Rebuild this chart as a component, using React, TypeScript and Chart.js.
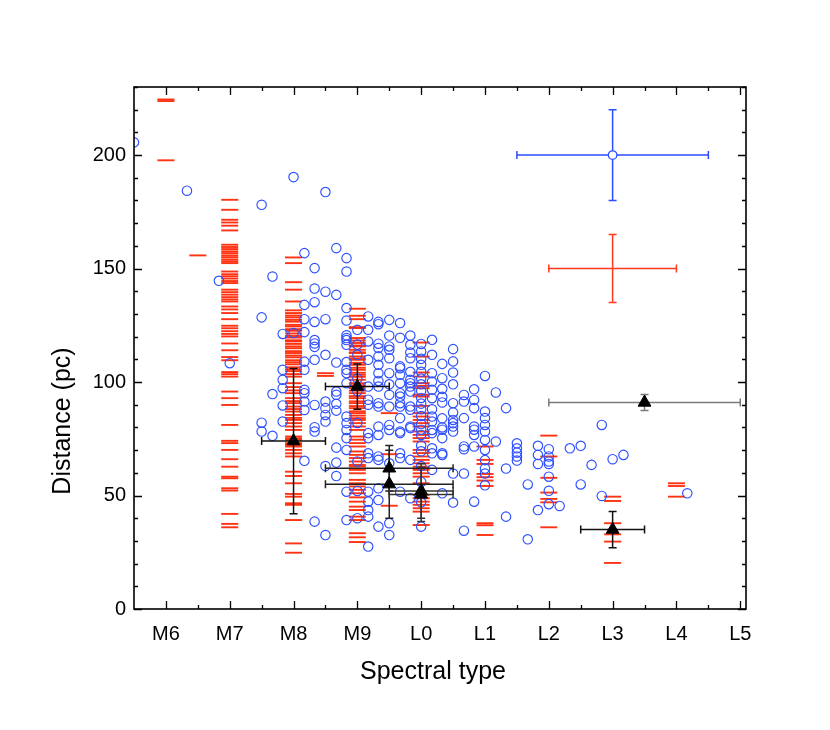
import React, { useEffect, useRef } from 'react';
import { Chart, registerables } from 'chart.js';

Chart.register(...registerables);

// ---------- axis ticks ----------
const X_TICK_VALUES = [6, 7, 8, 9, 10, 11, 12, 13, 14, 15];
const X_TICK_LABELS = ['M6', 'M7', 'M8', 'M9', 'L0', 'L1', 'L2', 'L3', 'L4', 'L5'];
const Y_TICK_VALUES = [0, 50, 100, 150, 200];
const X_MIN = 5.5;
const X_MAX = 15.09;
const Y_MIN = 0;
const Y_MAX = 230;

// ---------- red dashes (spectral type, distances) ----------
const RED_M6 = [224.5, 223.8, 197.7];
const RED_M6_5 = [155.8];
const RED_M7 = [180.3, 175.9, 171.5, 170.3, 168.9, 166.8, 160.5, 159.5, 158.6, 157.6, 156.8, 155.8, 155.0, 154.0, 153.2, 152.4,
  148.7, 147.5, 146.6, 145.6, 144.5, 143.6, 140.7, 139.6, 138.5, 137.4, 136.4, 135.5, 133.3, 132.0, 130.4, 127.7, 124.8,
  123.7, 122.4, 121.2, 120.1, 117.0, 114.0, 111.0, 109.6, 104.4, 103.5, 102.4, 95.8, 92.9, 89.9, 81.1, 74.1, 73.1, 70.1,
  66.0, 62.7, 58.3, 57.6, 53.2, 52.2, 41.9, 37.5, 36.0];
const RED_M8 = [154.9, 152.4, 144.0, 140.7, 135.5, 131.6, 130.4, 129.3, 128.5, 127.4, 126.6, 125.2, 124.5, 123.3, 122.6,
  121.4, 120.3, 119.6, 118.4, 117.9, 116.8, 115.7, 114.9, 113.6, 112.8, 111.7, 110.9, 109.6, 108.7, 107.8, 106.5, 105.6,
  104.8, 103.5, 102.4, 99.5, 97.8, 96.3, 95.1, 92.9, 91.6, 90.7, 89.2, 88.1, 87.0, 85.5, 84.2, 83.3, 81.9, 80.4, 78.9,
  76.0, 75.2, 74.5, 73.1, 72.3, 71.6, 70.1, 68.6, 67.2, 60.5, 58.6, 55.4, 50.7, 49.5, 46.6, 45.9, 39.2, 28.9, 24.8];
const RED_M8_5 = [103.9, 102.7];
const RED_M9 = [132.3, 129.2, 127.7, 124.2, 123.8, 119.4, 118.3, 117.2, 116.1, 115.7, 114.2, 113.1, 112.8, 111.3, 110.4,
  109.8, 108.5, 107.6, 106.3, 105.4, 104.1, 103.2, 102.3, 101.0, 99.5, 98.6, 97.3, 96.2, 95.1, 93.8, 92.9, 91.5, 90.7,
  89.4, 88.5, 87.1, 86.3, 85.2, 84.1, 83.3, 81.9, 80.4, 78.9, 76.0, 74.6, 73.1, 71.6, 69.4, 67.9, 66.5, 65.0, 63.5, 62.8,
  61.3, 59.8, 56.9, 55.4, 54.0, 52.5, 51.0, 49.2, 47.3, 45.1, 43.6, 40.7, 39.2, 33.4, 31.6, 29.5];
const RED_M9_5 = [86.3, 68.2, 45.5];
const RED_L0 = [117.4, 111.2, 104.2, 102.4, 99.5, 98.3, 97.3, 94.4, 93.6, 89.5, 86.3, 84.8, 83.3, 81.9, 80.4, 78.2, 76.7,
  75.3, 73.8, 70.1, 68.7, 67.2, 65.7, 64.2, 62.7, 61.3, 59.8, 58.3, 55.4, 50.3, 48.8, 47.3, 45.9, 44.4, 42.9, 37.0];
const RED_L1 = [71.6, 65.7, 63.9, 59.5, 58.1, 56.6, 54.2, 37.8, 36.9, 32.6];
const RED_L2 = [76.4, 67.2, 57.8, 51.3, 48.5, 47.0, 36.0];
const RED_L3 = [49.5, 47.6, 37.8, 32.9, 29.7, 20.3];
const RED_L4 = [55.4, 54.2, 49.5];

const RED_COLUMNS: [number, number[]][] = [
  [6, RED_M6], [6.5, RED_M6_5], [7, RED_M7], [8, RED_M8], [8.5, RED_M8_5], [9, RED_M9], [9.5, RED_M9_5],
  [10, RED_L0], [11, RED_L1], [12, RED_L2], [13, RED_L3], [14, RED_L4],
];

// ---------- blue circles (spectral type, distances) ----------
const BLUE_COLUMNS: [number, number[]][] = [
  [5.5, [205.6]],
  [6.33, [184.3]],
  [6.83, [144.6]],
  [7.0, [108.3]],
  [7.5, [178.1, 128.5, 82.1, 78.2]],
  [7.67, [146.5, 94.7, 76.3]],
  [7.83, [121.2, 105.4, 101.0, 97.3, 89.7, 82.6]],
  [8.0, [190.3, 121.6]],
  [8.17, [156.8, 134.0, 127.7, 122.0, 109.0, 105.4, 96.6, 95.1, 91.4, 87.7, 65.3]],
  [8.33, [150.2, 141.2, 135.2, 126.5, 118.5, 117.0, 115.5, 109.8, 89.9, 80.1, 78.2, 38.5]],
  [8.5, [183.7, 139.8, 127.7, 112.0, 91.4, 88.5, 85.5, 82.6, 63.0, 32.6]],
  [8.67, [159.0, 138.4, 108.6, 95.8, 94.4, 90.4, 87.4, 71.1, 64.5, 58.6]],
  [8.83, [154.6, 148.7, 132.6, 127.1, 120.6, 119.4, 118.5, 116.4, 108.8, 105.4, 103.9, 99.5, 84.8, 81.9, 78.9, 75.3, 70.1, 51.7, 39.2]],
  [9.0, [123.0, 116.5, 112.0, 101.5, 96.0, 82.0, 65.0, 52.0, 40.0]],
  [9.17, [128.9, 123.0, 117.9, 109.8, 98.0, 92.2, 90.0, 77.5, 75.3, 68.6, 66.5, 51.7, 47.3, 43.6, 40.7, 27.5]],
  [9.33, [126.5, 125.5, 116.9, 115.0, 111.3, 107.6, 103.9, 100.5, 98.0, 90.7, 89.2, 80.4, 76.7, 67.2, 65.7, 53.2, 48.0, 36.3]],
  [9.5, [127.4, 120.5, 115.7, 114.2, 110.5, 103.9, 99.0, 94.4, 89.2, 81.1, 78.9, 64.2, 37.8, 32.6]],
  [9.67, [126.0, 119.5, 106.9, 106.1, 103.2, 99.5, 95.1, 93.6, 90.7, 89.2, 84.1, 78.2, 77.5, 68.6, 66.5, 51.7]],
  [9.83, [120.5, 116.4, 113.0, 110.5, 104.5, 101.0, 99.5, 98.0, 95.8, 89.2, 87.8, 80.4, 79.7, 65.7, 48.8]],
  [10.0, [116.8, 113.5, 110.2, 107.6, 104.5, 101.5, 99.0, 96.0, 93.0, 90.5, 88.0, 85.0, 81.5, 79.0, 76.7, 72.0, 69.5, 63.0, 56.0, 47.0, 36.3]],
  [10.17, [118.6, 112.0, 103.9, 100.2, 96.6, 92.9, 88.0, 84.8, 82.6, 78.9, 77.5, 70.8, 68.6, 61.3]],
  [10.33, [108.0, 101.7, 97.0, 93.5, 91.0, 84.0, 80.0, 79.0, 75.3, 68.6, 67.9, 51.0]],
  [10.5, [114.5, 109.1, 104.2, 99.0, 90.7, 86.6, 83.3, 81.9, 80.4, 78.2, 59.7, 46.9]],
  [10.67, [94.3, 91.4, 84.1, 71.6, 70.4, 59.7, 34.5]],
  [10.83, [96.8, 92.1, 88.5, 80.4, 79.0, 76.7, 71.6, 47.3]],
  [11.0, [102.7, 87.0, 84.1, 81.1, 78.2, 74.5, 70.1, 65.6, 61.9, 59.7, 54.5]],
  [11.17, [95.4, 73.8]],
  [11.33, [88.5, 61.9, 40.7]],
  [11.5, [73.0, 70.8, 68.9, 67.2, 65.4]],
  [11.67, [54.9, 30.7]],
  [11.83, [71.9, 67.9, 63.9, 43.6]],
  [12.0, [70.4, 67.2, 65.0, 63.9, 58.3, 52.1, 46.2]],
  [12.17, [45.4]],
  [12.33, [70.8]],
  [12.5, [71.9, 54.9]],
  [12.67, [63.5]],
  [12.83, [81.1, 49.8]],
  [13.0, [66.0]],
  [13.17, [67.9]],
  [14.17, [51.0]],
];

// ---------- black triangles with error bars ----------
const TRI_X = [8, 9, 9.5, 9.5, 10, 10, 13, 13.5];
const TRI_Y = [74, 98, 62, 55, 52, 50.5, 35, 91];
const TRI_XERR = [0.5, 0.5, 1, 1, 0.5, 0.5, 0.5, 1.5];
const TRI_YERR = [32, 10, 10, 15, 12, 12, 8, 3.5];
const TRI_BAR_COLORS = ['#111', '#111', '#222', '#222', '#333', '#333', '#111', '#7a7a7a'];

// ---------- typical-error crosses ----------
const REF_X = [13, 13];
const REF_Y = [200, 150];
const REF_XERR = [1.5, 1];
const REF_YERR = [20, 15];
const REF_COLORS = ['#2a4dff', '#ff3a1a'];

const FONT = '"Liberation Sans", Arial, Helvetica, sans-serif';

const errorBarsAndFrame = {
  id: 'errorBarsAndFrame',
  beforeDatasetDraw(chart: any, args: any) {
    const ds = chart.data.datasets[args.index];
    if (!ds.errorBars) return;
    const xs = chart.scales.x;
    const ys = chart.scales.y;
    const ctx = chart.ctx;
    const cap = 4;
    ctx.save();
    ds.data.forEach((p: any, i: number) => {
      ctx.strokeStyle = ds.errorColors[i];
      ctx.lineWidth = 1.5;
      const px = xs.getPixelForValue(p.x);
      const py = ys.getPixelForValue(p.y);
      const x0 = xs.getPixelForValue(p.x - p.xerr);
      const x1 = xs.getPixelForValue(p.x + p.xerr);
      const y0 = ys.getPixelForValue(p.y - p.yerr);
      const y1 = ys.getPixelForValue(p.y + p.yerr);
      ctx.beginPath();
      ctx.moveTo(x0, py); ctx.lineTo(x1, py);
      ctx.moveTo(x0, py - cap); ctx.lineTo(x0, py + cap);
      ctx.moveTo(x1, py - cap); ctx.lineTo(x1, py + cap);
      ctx.moveTo(px, y0); ctx.lineTo(px, y1);
      ctx.moveTo(px - cap, y0); ctx.lineTo(px + cap, y0);
      ctx.moveTo(px - cap, y1); ctx.lineTo(px + cap, y1);
      ctx.stroke();
    });
    ctx.restore();
  },
  afterDraw(chart: any) {
    const { ctx, chartArea } = chart;
    const xs = chart.scales.x;
    const ys = chart.scales.y;
    const { left, right, top, bottom } = chartArea;
    ctx.save();
    ctx.strokeStyle = '#000';
    ctx.lineWidth = 1.3;
    ctx.beginPath();
    for (let v = X_TICK_VALUES[0]; v <= X_TICK_VALUES[X_TICK_VALUES.length - 1] + 1e-6; v += 0.5) {
      const px = Math.round(xs.getPixelForValue(v)) + 0.5;
      const len = Math.abs(v - Math.round(v)) < 1e-6 ? 8 : 4;
      ctx.moveTo(px, bottom); ctx.lineTo(px, bottom - len);
      ctx.moveTo(px, top); ctx.lineTo(px, top + len);
    }
    for (let v = Y_MIN; v <= Y_MAX + 1e-6; v += 10) {
      const py = Math.round(ys.getPixelForValue(v)) + 0.5;
      const len = v % 50 === 0 ? 8 : 4;
      ctx.moveTo(left, py); ctx.lineTo(left + len, py);
      ctx.moveTo(right, py); ctx.lineTo(right - len, py);
    }
    ctx.stroke();
    ctx.lineWidth = 1.6;
    ctx.strokeRect(left, top, right - left, bottom - top);
    ctx.fillStyle = '#000';
    ctx.font = `25px ${FONT}`;
    ctx.textAlign = 'center';
    ctx.textBaseline = 'alphabetic';
    ctx.fillText('Spectral type', left + 299, bottom + 69.5);
    ctx.translate(left - 64, top + 334);
    ctx.rotate(-Math.PI / 2);
    ctx.fillText('Distance (pc)', 0, 0);
    ctx.restore();
  },
};

export default function App() {
  const canvasRef = useRef<HTMLCanvasElement | null>(null);

  useEffect(() => {
    if (!canvasRef.current) return;

    const redData: { x: number; y: number }[] = [];
    RED_COLUMNS.forEach(([x, ys]) => ys.forEach((y) => redData.push({ x, y })));
    const blueData: { x: number; y: number }[] = [];
    BLUE_COLUMNS.forEach(([x, ys]) => ys.forEach((y) => blueData.push({ x, y })));
    const triData = TRI_X.map((x, i) => ({ x, y: TRI_Y[i], xerr: TRI_XERR[i], yerr: TRI_YERR[i] }));
    const refData = REF_X.map((x, i) => ({ x, y: REF_Y[i], xerr: REF_XERR[i], yerr: REF_YERR[i] }));

    const chart = new Chart(canvasRef.current, {
      type: 'scatter',
      data: {
        datasets: [
          {
            label: 'mean',
            data: triData,
            order: 0,
            pointStyle: 'triangle',
            pointRadius: 7.4,
            backgroundColor: '#000',
            borderColor: '#000',
            borderWidth: 1,
            errorBars: true,
            errorColors: TRI_BAR_COLORS,
          } as any,
          {
            label: 'typical errors',
            data: refData,
            order: 1,
            pointStyle: 'circle',
            pointRadius: [4.3, 0],
            backgroundColor: '#fff',
            borderColor: REF_COLORS[0],
            borderWidth: 1.3,
            errorBars: true,
            errorColors: REF_COLORS,
          } as any,
          {
            label: 'blue',
            data: blueData,
            order: 2,
            pointStyle: 'circle',
            pointRadius: 4.7,
            backgroundColor: 'rgba(0,0,0,0)',
            borderColor: 'rgb(45,80,255)',
            borderWidth: 1.15,
          },
          {
            label: 'red',
            data: redData,
            order: 3,
            pointStyle: 'line',
            pointRadius: 8.5,
            borderColor: 'rgba(255,40,5,0.95)',
            borderWidth: 1.9,
          },
        ],
      },
      options: {
        responsive: false,
        animation: false,
        events: [],
        layout: { padding: { left: 0, right: 84, top: 87, bottom: 0 } },
        plugins: { legend: { display: false }, tooltip: { enabled: false } },
        scales: {
          x: {
            type: 'linear',
            position: 'bottom',
            min: X_MIN,
            max: X_MAX,
            afterBuildTicks: (s: any) => { s.ticks = X_TICK_VALUES.map((v) => ({ value: v })); },
            afterFit: (s: any) => { s.height = 121; },
            grid: { display: false, drawTicks: false },
            border: { display: false },
            ticks: {
              autoSkip: false,
              maxRotation: 0,
              padding: 13,
              color: '#000',
              font: { family: FONT, size: 20 },
              callback: (v: any) => X_TICK_LABELS[X_TICK_VALUES.indexOf(Number(v))] ?? '',
            },
          },
          y: {
            type: 'linear',
            position: 'left',
            min: Y_MIN,
            max: Y_MAX,
            afterBuildTicks: (s: any) => { s.ticks = Y_TICK_VALUES.map((v) => ({ value: v })); },
            afterFit: (s: any) => { s.width = 134; },
            grid: { display: false, drawTicks: false },
            border: { display: false },
            ticks: {
              padding: 8,
              color: '#000',
              font: { family: FONT, size: 20 },
              callback: (v: any) => String(v),
            },
          },
        },
      },
      plugins: [errorBarsAndFrame],
    });

    return () => chart.destroy();
  }, []);

  return (
    <div style={{ position: 'absolute', left: 0, top: 0, width: 830, height: 730, background: '#fff' }}>
      <canvas ref={canvasRef} width={830} height={730} style={{ display: 'block', width: 830, height: 730 }} />
    </div>
  );
}
